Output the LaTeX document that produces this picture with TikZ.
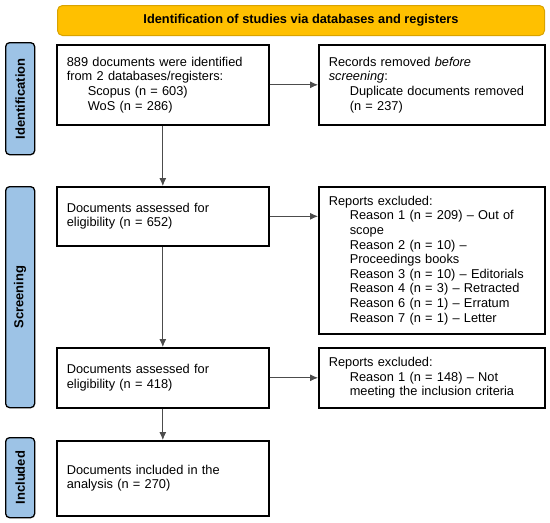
\documentclass[tikz,border=0pt]{standalone}
\usepackage{fontspec}
\setmainfont{Liberation Sans}
\usetikzlibrary{arrows.meta,positioning}

\definecolor{bannerfill}{HTML}{FFC000}
\definecolor{bannerline}{HTML}{D9A300}
\definecolor{phasefill}{HTML}{9DC3E6}
\newcommand{\indnt}{\hspace*{21pt}}

\tikzset{
  stepbox/.style={draw,line width=1.6pt,align=left,anchor=north west,
    inner xsep=10pt,font=\fontsize{12.8}{14.6}\selectfont},
  phasebar/.style={draw,line width=1.3pt,rounded corners=4pt,fill=phasefill,
    anchor=north west,minimum width=29pt,inner sep=0pt},
  phaselabel/.style={rotate=90,font=\bfseries\fontsize{13}{14}\selectfont},
  flow/.style={-{Latex[length=8pt,width=7pt]},line width=0.8pt,draw=black!70},
}

\begin{document}
\begin{tikzpicture}[x=1pt,y=-1pt]
  \useasboundingbox (0,0) rectangle (550,523);

  % banner
  \node[draw=bannerline,line width=1pt,fill=bannerfill,rounded corners=5pt,
    anchor=north west,minimum width=487pt,minimum height=30pt,
    font=\bfseries\fontsize{12.8}{14}\selectfont] (banner) at (57,5)
    {Identification of studies via databases and registers};

  % phase bars
  \node[phasebar,minimum height=112pt] (phid) at (5,42) {};
  \node[phaselabel] at (phid.center) {Identification};
  \node[phasebar,minimum height=221pt] (phscr) at (5,186) {};
  \node[phaselabel] at (phscr.center) {Screening};
  \node[phasebar,minimum height=80pt] (phinc) at (5,437) {};
  \node[phaselabel] at (phinc.center) {Included};

  % left column
  \node[stepbox,text width=192pt,minimum height=80pt] (ident) at (56,44)
    {889 documents were identified\\
     from 2 databases/registers:\\
     \indnt Scopus (n = 603)\\
     \indnt WoS (n = 286)};
  \node[stepbox,text width=192pt,minimum height=59pt] (assess1) at (56,186)
    {Documents assessed for\\ eligibility (n = 652)};
  \node[stepbox,text width=192pt,minimum height=60pt] (assess2) at (56,347)
    {Documents assessed for\\ eligibility (n = 418)};
  \node[stepbox,text width=192pt,minimum height=75pt] (incl) at (56,440)
    {Documents included in the\\ analysis (n = 270)};

  % right column
  \node[stepbox,text width=206pt,minimum height=80pt] (removed) at (318,44)
    {Records removed \textit{before}\\
     \textit{screening}:\\
     \indnt Duplicate documents removed\\
     \indnt (n = 237)};
  \node[stepbox,text width=206pt,minimum height=147pt] (excl1) at (318,186)
    {Reports excluded:\\
     \indnt Reason 1 (n = 209) – Out of\\
     \indnt scope\\
     \indnt Reason 2 (n = 10) –\\
     \indnt Proceedings books\\
     \indnt Reason 3 (n = 10) – Editorials\\
     \indnt Reason 4 (n = 3) – Retracted\\
     \indnt Reason 6 (n = 1) – Erratum\\
     \indnt Reason 7 (n = 1) – Letter};
  \node[stepbox,text width=206pt,minimum height=60pt] (excl2) at (318,347)
    {Reports excluded:\\
     \indnt Reason 1 (n = 148) – Not\\
     \indnt meeting the inclusion criteria};

  % arrows
  \draw[flow] (ident) -- (assess1);
  \draw[flow] (assess1) -- (assess2);
  \draw[flow] (assess2) -- (incl);
  \draw[flow] (ident.east) -- (removed.west |- ident.east);
  \draw[flow] (assess1.east) -- (excl1.west |- assess1.east);
  \draw[flow] (assess2.east) -- (excl2.west |- assess2.east);
\end{tikzpicture}
\end{document}
